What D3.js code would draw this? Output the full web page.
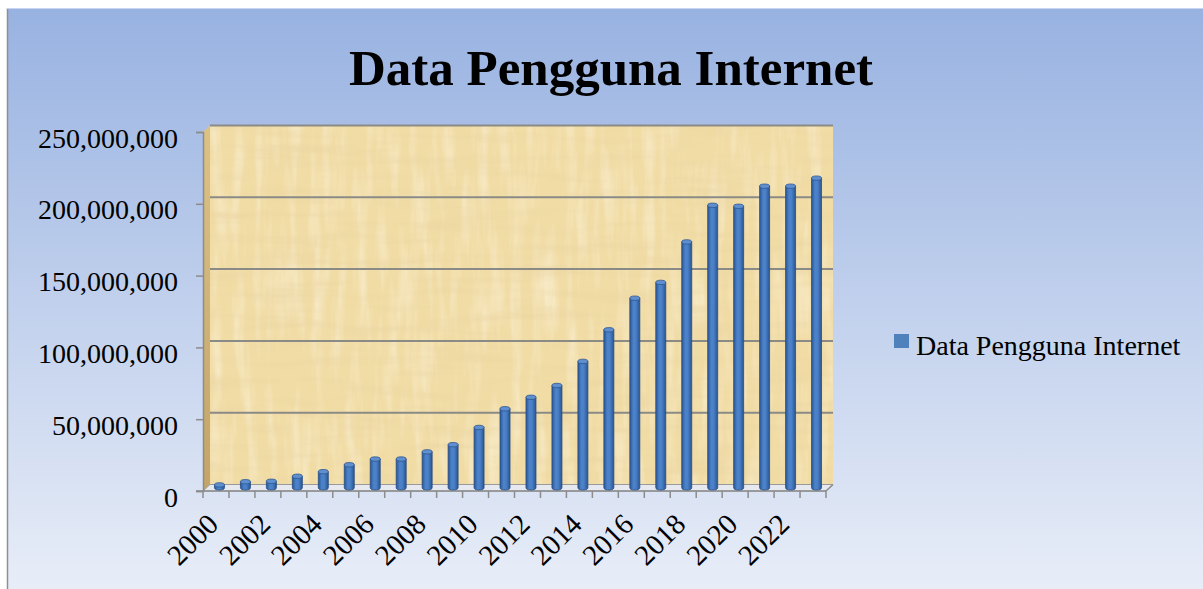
<!DOCTYPE html>
<html>
<head>
<meta charset="utf-8">
<script src="https://cdn.jsdelivr.net/npm/d3@7"></script>
<style>
  html, body { margin: 0; padding: 0; background: #fff; }
  svg text { font-family: "Liberation Serif", "DejaVu Serif", serif; fill: #000; }
</style>
</head>
<body>
<div id="chart"></div>
<script>
'use strict';
// data
var years = ['2000', '2001', '2002', '2003', '2004', '2005', '2006', '2007', '2008', '2009', '2010', '2011',
    '2012', '2013', '2014', '2015', '2016', '2017', '2018', '2019', '2020', '2021', '2022', '2023'];
var users = [2000000, 4200000, 4500000, 8000000, 11200000, 16000000, 20000000, 20000000, 25000000, 30000000,
    42000000, 55000000, 63000000, 71200000, 88000000, 110000000, 132000000, 143000000, 171200000, 196700000,
    196000000, 210000000, 210000000, 215600000];
var yTicks = [0, 50000000, 100000000, 150000000, 200000000, 250000000];
var seriesName = 'Data Pengguna Internet';
var chartTitle = 'Data Pengguna Internet';

var width = 1203,
    height = 589;
var depthX = 7, depthY = -6.5;   // 3d wall depth

var svg = d3.select('#chart').append('svg')
    .attr('width', width)
    .attr('height', height);

var defs = svg.append('defs');

var bg = defs.append('linearGradient').attr('id', 'bg').attr('x1', 0).attr('y1', 0).attr('x2', 0).attr('y2', 1);
bg.append('stop').attr('offset', 0).attr('stop-color', '#98b2e1');
bg.append('stop').attr('offset', 1).attr('stop-color', '#e9eef8');

var cyl = defs.append('linearGradient').attr('id', 'cyl').attr('x1', 0).attr('y1', 0).attr('x2', 1).attr('y2', 0);
cyl.append('stop').attr('offset', 0).attr('stop-color', '#2a5592');
cyl.append('stop').attr('offset', 0.35).attr('stop-color', '#4b83cb');
cyl.append('stop').attr('offset', 0.6).attr('stop-color', '#4a80c7');
cyl.append('stop').attr('offset', 1).attr('stop-color', '#2a5490');

var side = defs.append('linearGradient').attr('id', 'side').attr('x1', 0).attr('y1', 0).attr('x2', 0).attr('y2', 1);
side.append('stop').attr('offset', 0).attr('stop-color', '#dcc185');
side.append('stop').attr('offset', 1).attr('stop-color', '#c4a467');

// papyrus-like texture
var pap = defs.append('filter').attr('id', 'papyrus')
    .attr('x', 0).attr('y', 0).attr('width', '100%').attr('height', '100%');
pap.append('feTurbulence').attr('type', 'fractalNoise')
    .attr('baseFrequency', '0.012 0.09').attr('numOctaves', 3).attr('seed', 7).attr('result', 'n1');
pap.append('feColorMatrix').attr('in', 'n1').attr('type', 'matrix')
    .attr('values', '0 0 0 0 0.82  0 0 0 0 0.66  0 0 0 0 0.36  1.6 0 0 0 -0.72')
    .attr('result', 'c1');
pap.append('feTurbulence').attr('type', 'fractalNoise')
    .attr('baseFrequency', '0.09 0.012').attr('numOctaves', 3).attr('seed', 3).attr('result', 'n2');
pap.append('feColorMatrix').attr('in', 'n2').attr('type', 'matrix')
    .attr('values', '0 0 0 0 1  0 0 0 0 0.97  0 0 0 0 0.88  1.4 0 0 0 -0.62')
    .attr('result', 'c2');
var merge = pap.append('feMerge');
merge.append('feMergeNode').attr('in', 'c2');
merge.append('feMergeNode').attr('in', 'c1');

// chart area background
svg.append('rect')
    .attr('x', 7).attr('y', 8)
    .attr('width', width).attr('height', height)
    .attr('fill', 'url(#bg)');
svg.append('line')
    .attr('x1', 7.5).attr('x2', 7.5).attr('y1', 8).attr('y2', height)
    .attr('stroke', '#8f8f8f').attr('stroke-width', 1.5);
svg.append('line')
    .attr('x1', 7).attr('x2', width).attr('y1', 8.5).attr('y2', 8.5)
    .attr('stroke', '#c9d5ee').attr('stroke-width', 1);

// title
svg.append('text')
    .attr('x', 611).attr('y', 85)
    .attr('text-anchor', 'middle')
    .style('font-size', '51px')
    .style('font-weight', 'bold')
    .text(chartTitle);

// scales (front plane)
var x = d3.scaleBand().domain(years).range([203, 826]).padding(0);
var y = d3.scaleLinear().domain([0, 250000000]).range([491, 132]);

var x0 = x.range()[0], x1 = x.range()[1];
var yTop = y(yTicks[yTicks.length - 1]), yBase = y(0);

// back wall
var backWall = svg.append('g');
backWall.append('rect')
    .attr('x', x0 + depthX).attr('y', yTop + depthY)
    .attr('width', x1 - x0).attr('height', yBase - yTop)
    .attr('fill', '#f1dca5');
backWall.append('rect')
    .attr('x', x0 + depthX).attr('y', yTop + depthY)
    .attr('width', x1 - x0).attr('height', yBase - yTop)
    .attr('filter', 'url(#papyrus)')
    .attr('opacity', 0.7);

// side wall
var sidePts = [[x0, yTop], [x0 + depthX, yTop + depthY], [x0 + depthX, yBase + depthY], [x0, yBase]];
svg.append('polygon')
    .attr('points', sidePts.map(function (p) { return p.join(','); }).join(' '))
    .attr('fill', 'url(#side)');

// floor
var floorPts = [[x0, yBase], [x0 + depthX, yBase + depthY], [x1 + depthX, yBase + depthY], [x1, yBase]];
svg.append('polygon')
    .attr('points', floorPts.map(function (p) { return p.join(','); }).join(' '))
    .attr('fill', '#e6e9f0')
    .attr('stroke', '#9a9a9a')
    .attr('stroke-width', 1);

// gridlines on back wall
svg.append('g').selectAll('line.grid')
    .data(yTicks.filter(function (d) { return d > 0; }))
    .enter().append('line')
    .attr('class', 'grid')
    .attr('x1', x0 + depthX).attr('x2', x1 + depthX)
    .attr('y1', function (d) { return y(d) + depthY; })
    .attr('y2', function (d) { return y(d) + depthY; })
    .attr('stroke', '#8a8a86')
    .attr('stroke-width', 2);

// y axis
var yAxis = d3.axisLeft(y)
    .tickValues(yTicks)
    .tickSize(7)
    .tickPadding(18)
    .tickFormat(d3.format(','));
var yAxisG = svg.append('g')
    .attr('transform', 'translate(' + x0 + ',0)')
    .call(yAxis);
yAxisG.select('.domain').attr('stroke', '#8c8c8c').attr('stroke-width', 1.5);
yAxisG.selectAll('.tick line').attr('stroke', '#8c8c8c').attr('stroke-width', 1.5);
yAxisG.selectAll('.tick text')
    .attr('dy', '0.54em')
    .style('font-size', '28px')
    .style('font-family', '"Liberation Serif", serif')
    .attr('fill', '#000');

// x axis: front floor edge + ticks at category boundaries
var xTickPos = years.map(function (d) { return x(d); }).concat([x1]);
svg.append('line')
    .attr('x1', x0 - 7).attr('x2', x1)
    .attr('y1', yBase).attr('y2', yBase)
    .attr('stroke', '#8c8c8c').attr('stroke-width', 1.5);
svg.append('line')
    .attr('x1', x1).attr('x2', x1 + depthX)
    .attr('y1', yBase).attr('y2', yBase + depthY)
    .attr('stroke', '#8c8c8c').attr('stroke-width', 1.5);
svg.append('g').selectAll('line')
    .data(xTickPos)
    .enter().append('line')
    .attr('x1', function (d) { return d; })
    .attr('x2', function (d) { return d; })
    .attr('y1', yBase).attr('y2', yBase + 7)
    .attr('stroke', '#8c8c8c').attr('stroke-width', 1.5);

svg.append('g').selectAll('text')
    .data(years.filter(function (d, i) { return i % 2 === 0; }))
    .enter().append('text')
    .attr('text-anchor', 'end')
    .attr('transform', function (d) {
        return 'translate(' + (x(d) + x.bandwidth() / 2 + 4) + ',' + (yBase + 35) + ') rotate(-45)';
    })
    .style('font-size', '29px')
    .text(function (d) { return d; });

// bars as cylinders at mid depth
var barW = 10, ry = 2.2;
var bars = svg.append('g').selectAll('g.bar')
    .data(years.map(function (d, i) { return { year: d, value: users[i] }; }))
    .enter().append('g')
    .attr('class', 'bar');

bars.append('path')
    .attr('d', function (d) {
        var cx = x(d.year) + x.bandwidth() / 2 + depthX / 2;
        var top = y(d.value) + depthY / 2;
        var bottom = yBase + depthY / 2;
        var l = cx - barW / 2, r = cx + barW / 2;
        return 'M' + l + ',' + top + 'L' + l + ',' + bottom +
            'A' + (barW / 2) + ',' + ry + ' 0 0 0 ' + r + ',' + bottom +
            'L' + r + ',' + top + 'Z';
    })
    .attr('fill', 'url(#cyl)')
    .attr('stroke', '#284e84')
    .attr('stroke-width', 0.8);

bars.append('ellipse')
    .attr('cx', function (d) { return x(d.year) + x.bandwidth() / 2 + depthX / 2; })
    .attr('cy', function (d) { return y(d.value) + depthY / 2; })
    .attr('rx', barW / 2)
    .attr('ry', ry)
    .attr('fill', '#5f8fcf')
    .attr('stroke', '#2d5690')
    .attr('stroke-width', 0.8);

// legend
var legend = svg.append('g').attr('transform', 'translate(894,334)');
legend.append('rect')
    .attr('width', 15).attr('height', 14)
    .attr('fill', '#4f81bd');
legend.append('text')
    .attr('x', 22).attr('y', 21)
    .style('font-size', '28px')
    .text(seriesName);
</script>
</body>
</html>
